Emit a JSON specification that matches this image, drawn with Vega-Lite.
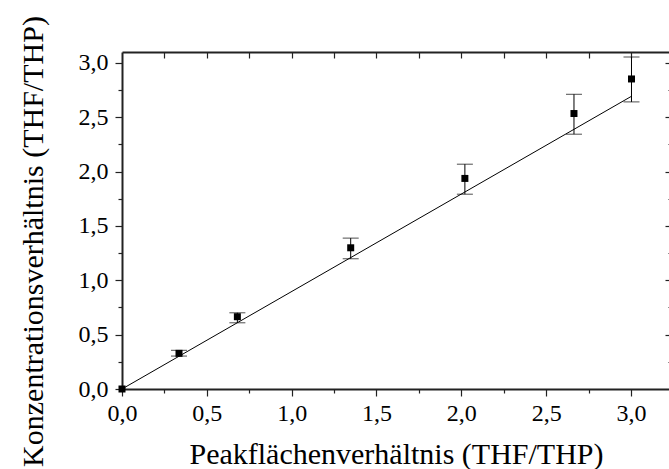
{
  "$schema": "https://vega.github.io/schema/vega-lite/v6.json",
  "autosize": {"type": "none"},
  "padding": {"left": 122, "top": 52, "right": 0, "bottom": 80},
  "width": 548,
  "height": 337,
  "background": "white",
  "config": {
    "font": "Liberation Serif",
    "view": {"stroke": null},
    "axis": {
      "labelFont": "Liberation Serif",
      "titleFont": "Liberation Serif",
      "labelColor": "black",
      "titleColor": "black",
      "labelFontSize": 24,
      "titleFontSize": 30,
      "titleFontWeight": "normal",
      "labelFlush": false,
      "labelOverlap": false,
      "domainColor": "#222",
      "domainWidth": 2,
      "tickColor": "#222",
      "tickWidth": 1.2,
      "grid": false
    }
  },
  "datasets": {
    "pts": [
      {"x": 0.0, "y": 0.0, "lo": null, "hi": null},
      {"x": 0.336, "y": 0.328, "lo": 0.303, "hi": 0.356},
      {"x": 0.68, "y": 0.665, "lo": 0.609, "hi": 0.701},
      {"x": 1.348, "y": 1.299, "lo": 1.198, "hi": 1.388},
      {"x": 2.021, "y": 1.937, "lo": 1.792, "hi": 2.068},
      {"x": 2.664, "y": 2.534, "lo": 2.344, "hi": 2.711},
      {"x": 3.003, "y": 2.852, "lo": 2.641, "hi": 3.054}
    ],
    "fit": [
      {"x": 0.0, "y": 0.0},
      {"x": 3.0, "y": 2.69}
    ]
  },
  "resolve": {"axis": {"x": "independent", "y": "independent"}},
  "layer": [
    {
      "data": {"name": "fit"},
      "mark": {"type": "line", "color": "black", "strokeWidth": 1},
      "encoding": {
        "x": {"field": "x", "type": "quantitative",
          "scale": {"domain": [0, 3.23], "nice": false, "zero": false},
          "axis": {"orient": "bottom", "values": [0, 0.5, 1, 1.5, 2, 2.5, 3],
            "tickSize": 7, "labelPadding": 5,
            "labelFont": "Liberation Serif", "labelFontSize": 24, "labelFontWeight": "normal",
            "labelExpr": "replace(format(datum.value, '.1f'), '.', ',')",
            "title": "Peakflächenverhältnis (THF/THP)",
            "titleBaseline": "alphabetic", "titleY": 74}},
        "y": {"field": "y", "type": "quantitative",
          "scale": {"domain": [0, 3.1], "nice": false, "zero": false},
          "axis": {"orient": "left", "values": [0, 0.5, 1, 1.5, 2, 2.5, 3],
            "tickSize": 7, "labelPadding": 7,
            "labelFont": "Liberation Serif", "labelFontSize": 24, "labelFontWeight": "normal",
            "labelExpr": "replace(format(datum.value, '.1f'), '.', ',')",
            "title": "Konzentrationsverhältnis (THF/THP)",
            "titleBaseline": "alphabetic", "titleX": -80, "titleY": 189}}
      }
    },
    {
      "data": {"name": "pts"},
      "mark": {"type": "rule", "color": "black", "strokeWidth": 1},
      "encoding": {
        "x": {"field": "x", "type": "quantitative",
          "axis": {"orient": "bottom", "values": [0.25, 0.75, 1.25, 1.75, 2.25, 2.75, 3.25],
            "tickSize": 4, "labels": false, "domain": false, "title": null}},
        "y": {"field": "lo", "type": "quantitative",
          "axis": {"orient": "left", "values": [0.25, 0.75, 1.25, 1.75, 2.25, 2.75],
            "tickSize": 4, "labels": false, "domain": false, "title": null}},
        "y2": {"field": "hi"}
      }
    },
    {
      "data": {"name": "pts"},
      "mark": {"type": "tick", "orient": "horizontal", "color": "black", "size": 16, "thickness": 1},
      "encoding": {
        "x": {"field": "x", "type": "quantitative",
          "axis": {"orient": "top", "values": [0.25, 0.5, 0.75, 1, 1.25, 1.5, 1.75, 2, 2.25, 2.5, 2.75, 3],
            "tickSize": -6, "labels": false, "domain": true, "title": null}},
        "y": {"field": "lo", "type": "quantitative",
          "axis": {"orient": "right", "values": [0.5, 1, 1.5, 2, 2.5, 3],
            "tickSize": -5, "labels": false, "domain": false, "title": null}}
      }
    },
    {
      "data": {"name": "pts"},
      "mark": {"type": "tick", "orient": "horizontal", "color": "black", "size": 16, "thickness": 1},
      "encoding": {
        "x": {"field": "x", "type": "quantitative", "axis": null},
        "y": {"field": "hi", "type": "quantitative",
          "axis": {"orient": "right", "values": [0.25, 0.75, 1.25, 1.75, 2.25, 2.75],
            "tickSize": -2, "labels": false, "domain": false, "title": null}}
      }
    },
    {
      "data": {"name": "pts"},
      "mark": {"type": "point", "shape": "square", "filled": true, "color": "black", "size": 49, "opacity": 1},
      "encoding": {
        "x": {"field": "x", "type": "quantitative", "axis": null},
        "y": {"field": "y", "type": "quantitative", "axis": null}
      }
    }
  ]
}
